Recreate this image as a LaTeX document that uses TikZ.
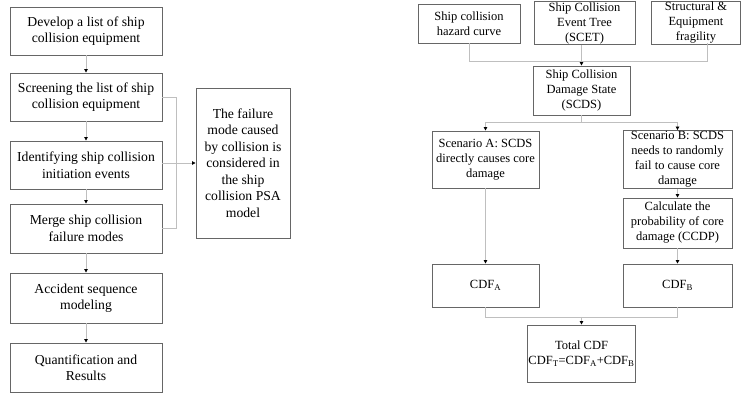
\documentclass[tikz,border=0pt]{standalone}
\usepackage{fontspec}
\setmainfont{Liberation Serif}
\usetikzlibrary{arrows.meta,calc}
\begin{document}
\begin{tikzpicture}[x=1pt,y=1pt,
  box/.style={draw=black!60,line width=0.9pt,fill=white,align=center,inner sep=1pt},
  lbox/.style={box,font=\fontsize{13.7}{16.5}\selectfont},
  rbox/.style={box,font=\fontsize{12.5}{15}\selectfont},
  conn/.style={draw=black!25,line width=0.8pt},
  arr/.style={conn,-{Triangle[length=3.5pt,width=3.5pt,color=black]}}]
\useasboundingbox (0,0) rectangle (741,393);
% left column (y_tikz = 393 - y)
\node[lbox,minimum width=152,minimum height=48] (b1) at (86,362) {Develop a list of ship\\collision equipment};
\node[lbox,minimum width=152,minimum height=48] (b2) at (86,296) {Screening the list of ship\\collision equipment};
\node[lbox,minimum width=152,minimum height=48] (b3) at (86,228) {Identifying ship collision\\initiation events};
\node[lbox,minimum width=152,minimum height=49] (b4) at (86,164.5) {Merge ship collision\\failure modes};
\node[lbox,minimum width=152,minimum height=50] (b5) at (86,95) {Accident sequence\\modeling};
\node[lbox,minimum width=152,minimum height=49] (b6) at (86,25.5) {Quantification and\\Results};
\node[lbox,minimum width=94,minimum height=150] (big) at (243,230) {The failure\\mode caused\\by collision is\\considered in\\the ship\\collision PSA\\model};
\draw[arr] (b1) -- (b2);
\draw[arr] (b2) -- (b3);
\draw[arr] (b3) -- (b4);
\draw[arr] (b4) -- (b5);
\draw[arr] (b5) -- (b6);
\coordinate (jx) at (176,296);
\draw[conn] (b2.east) -- (jx) |- (b4.east);
\draw[arr] (b3.east |- big.west) -- (big.west);
% right part
\node[rbox,minimum width=102,minimum height=39] (haz) at (469,369.5) {Ship collision\\hazard curve};
\node[rbox,minimum width=101,minimum height=40] (scet) at (584.5,370) {Ship Collision\\Event Tree\\(SCET)};
\node[rbox,minimum width=89,minimum height=40] (str) at (696,370) {Structural \&\\Equipment\\fragility};
\node[rbox,minimum width=97,minimum height=49] (scds) at (581.5,302.5) {Ship Collision\\Damage State\\(SCDS)};
\node[rbox,minimum width=107,minimum height=57] (sa) at (485.5,233.5) {Scenario A: SCDS\\directly causes core\\damage};
\node[rbox,minimum width=109,minimum height=57] (sb) at (677.5,233.5) {Scenario B: SCDS\\needs to randomly\\fail to cause core\\damage};
\node[rbox,minimum width=109,minimum height=50] (ccdp) at (677.5,170) {Calculate the\\probability of core\\damage (CCDP)};
\node[rbox,minimum width=107,minimum height=43] (cdfa) at (485.5,107.5) {CDF\textsubscript{A}};
\node[rbox,minimum width=109,minimum height=43] (cdfb) at (677.5,107.5) {CDF\textsubscript{B}};
\node[rbox,minimum width=95,minimum height=57] (tot) at (581.5,39.5) {Total CDF\\CDF\textsubscript{T}=CDF\textsubscript{A}+CDF\textsubscript{B}};
\coordinate (strs) at (707,350);
\draw[conn] (haz.south) -- (haz.south |- 0,332) -- (707,332) -- (strs);
\draw[arr] (scds.north |- scet.south) -- (scds.north);
\draw[conn] (scds.south) -- (scds.south |- 0,271);
\draw[arr] (scds.south |- 0,271) -| (sa.north);
\draw[arr] (scds.south |- 0,271) -| (sb.north);
\draw[arr] (sa) -- (cdfa);
\draw[arr] (sb) -- (ccdp);
\draw[arr] (ccdp) -- (cdfb);
\draw[conn] (cdfa.south) |- (cdfb.south |- 0,76) -- (cdfb.south);
\draw[arr] (tot.north |- 0,76) -- (tot.north);
\end{tikzpicture}
\end{document}
